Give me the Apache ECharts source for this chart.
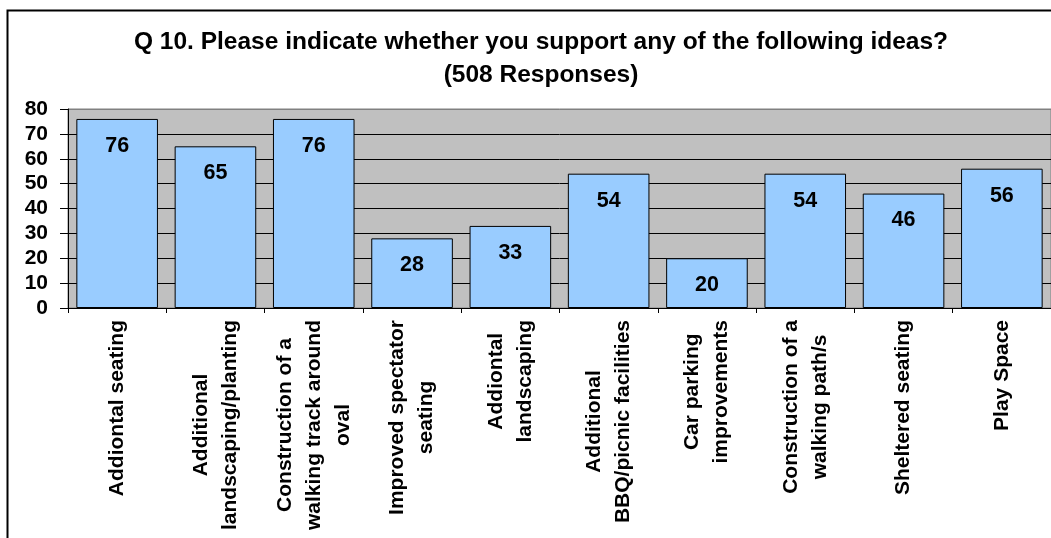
<!DOCTYPE html>
<html>
<head>
<meta charset="utf-8">
<script src="https://cdn.jsdelivr.net/npm/echarts@6/dist/echarts.min.js"></script>
<style>
  html, body { margin: 0; padding: 0; background: #fff; }
  #chart { width: 1051px; height: 538px; }
</style>
</head>
<body>
<div id="chart"></div>
<script>
const titleText = 'Q 10. Please indicate whether you support any of the following ideas?\n(508 Responses)';
const categories = [
  'Addiontal seating',
  'Additional\nlandscaping/planting',
  'Construction of a\nwalking track around\noval',
  'Improved spectator\nseating',
  'Addiontal\nlandscaping',
  'Additional\nBBQ/picnic facilities',
  'Car parking\nimprovements',
  'Construction of a\nwalking path/s',
  'Sheltered seating',
  'Play Space'
];
const values = [76, 65, 76, 28, 33, 54, 20, 54, 46, 56];
const yMin = 0, yMax = 80, yStep = 10;

const FONT = "'Liberation Sans', Arial, sans-serif";
const chart = echarts.init(document.getElementById('chart'), null, { renderer: 'canvas' });
chart.setOption({
  animation: false,
  backgroundColor: '#fff',
  graphic: [{
    type: 'rect',
    shape: { x: 7.5, y: 10.5, width: 1200, height: 700 },
    style: { fill: 'none', stroke: '#000', lineWidth: 2 },
    z: 100
  }],
  title: {
    text: titleText,
    left: 536,
    top: 21,
    textAlign: 'center',
    textStyle: { fontFamily: FONT, fontSize: 24.5, fontWeight: 'bold', color: '#000', lineHeight: 33 }
  },
  grid: {
    left: 68, right: 0, top: 109, bottom: 230,
    show: true, backgroundColor: '#C0C0C0', borderColor: '#808080', borderWidth: 1,
    containLabel: false
  },
  xAxis: {
    type: 'category',
    data: categories,
    boundaryGap: true,
    axisLine: { show: true, lineStyle: { color: '#000', width: 1 } },
    axisTick: { show: true, alignWithLabel: false, length: 5, lineStyle: { color: '#000' } },
    axisLabel: {
      interval: 0,
      rotate: 90,
      margin: 12,
      fontFamily: FONT, fontSize: 21, fontWeight: 'bold', color: '#000',
      lineHeight: 29,
      formatter: function (v) {
        return v.split('\n').map(function (s) { return '{c|' + s + '}'; }).join('\n');
      },
      rich: {
        c: { align: 'center', fontFamily: FONT, fontSize: 21, fontWeight: 'bold', color: '#000', lineHeight: 29 }
      }
    },
    splitLine: { show: false }
  },
  yAxis: {
    type: 'value',
    min: yMin, max: yMax, interval: yStep,
    axisLine: { show: true, lineStyle: { color: '#000', width: 1 } },
    axisTick: { show: true, length: 8, lineStyle: { color: '#000' } },
    axisLabel: { margin: 20, fontFamily: FONT, fontSize: 21, fontWeight: 'bold', color: '#000' },
    splitLine: { show: true, lineStyle: { color: ['#000', '#000', '#000', '#000', '#000', '#000', '#000', '#000', '#808080'], width: 1 } }
  },
  series: [{
    type: 'bar',
    data: values,
    barCategoryGap: '17%',
    itemStyle: { color: '#99CCFF', borderColor: '#000', borderWidth: 1 },
    label: {
      show: true, position: 'insideTop', distance: 16,
      fontFamily: FONT, fontSize: 21.5, fontWeight: 'bold', color: '#000'
    }
  }]
});
</script>
</body>
</html>
